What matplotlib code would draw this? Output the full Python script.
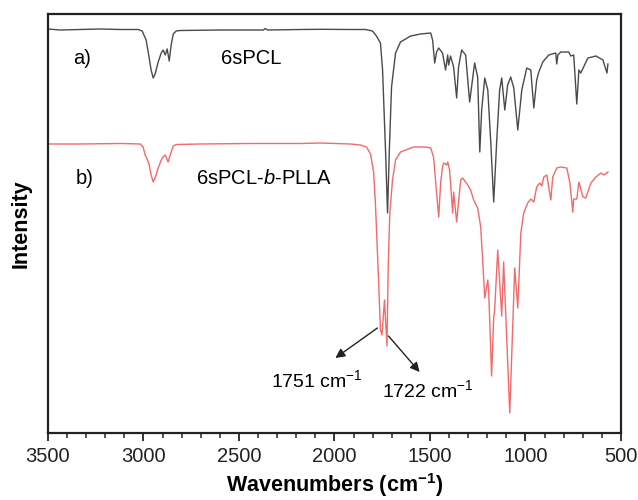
import matplotlib
matplotlib.use("Agg")
from matplotlib import pyplot as plt

# wavenumber (cm-1) / intensity (a.u.)
BLACK_WN = [3500, 3437, 3332, 3227, 3122, 3028, 3007, 2986, 2970, 2960,
            2949, 2939, 2923, 2907, 2897, 2886, 2876, 2865, 2855, 2844,
            2829, 2808, 2598, 2441, 2372, 2362, 2351, 2178, 2073, 1916,
            1837, 1801, 1780, 1759, 1748, 1732, 1722, 1712, 1701, 1680,
            1654, 1601, 1549, 1496, 1486, 1475, 1465, 1454, 1434, 1418,
            1407, 1402, 1392, 1376, 1360, 1350, 1334, 1313, 1292, 1266,
            1250, 1239, 1229, 1213, 1197, 1182, 1166, 1150, 1135, 1124,
            1108, 1093, 1077, 1061, 1040, 1019, 993, 972, 956, 941,
            930, 909, 878, 841, 836, 830, 815, 773, 762, 747,
            731, 720, 710, 673, 631, 594, 573, 568]
BLACK_I = [404, 403, 403.5, 404, 403.5, 403.5, 402, 393, 375, 363,
           355, 359, 371, 380, 383, 378, 384, 372, 388, 399,
           402, 402.5, 403, 403, 403, 404.5, 403, 403.5, 403.7, 403.5,
           403.5, 402, 397, 390, 363, 280, 220, 286, 346, 380,
           391, 397, 399, 400, 393, 370, 381, 385, 380, 363,
           378, 368, 377, 366, 335, 366, 383, 378, 331, 370,
           356, 281, 323, 355, 343, 293, 231, 293, 343, 355,
           323, 348, 356, 345, 303, 343, 365, 363, 325, 353,
           361, 371, 378, 380, 369, 378, 381, 381, 377, 378,
           329, 363, 360, 375, 377, 373, 360, 369]

RED_WN = [3500, 3332, 3122, 3017, 3002, 2991, 2981, 2970, 2960, 2949,
          2939, 2923, 2907, 2897, 2886, 2871, 2860, 2844, 2829, 2703,
          2441, 2178, 2073, 1916, 1864, 1832, 1811, 1795, 1785, 1769,
          1759, 1751, 1738, 1725, 1718, 1710, 1696, 1680, 1654, 1586,
          1523, 1496, 1481, 1465, 1454, 1444, 1434, 1428, 1413, 1407,
          1397, 1381, 1376, 1360, 1339, 1329, 1302, 1287, 1271, 1250,
          1234, 1224, 1213, 1197, 1192, 1177, 1166, 1161, 1145, 1124,
          1114, 1082, 1056, 1040, 1024, 1009, 988, 972, 956, 941,
          925, 914, 904, 888, 867, 857, 836, 815, 783, 767,
          752, 747, 731, 720, 699, 684, 657, 631, 605, 589, 568]
RED_I = [289, 289, 289.5, 289, 286, 278, 274, 268, 258, 251,
         255, 265, 273, 276, 278, 271, 278, 287, 288.5, 289,
         289.5, 289.5, 290, 289, 288, 286, 279, 261, 228, 153,
         103, 98, 133, 87, 170, 220, 253, 273, 281, 286,
         286, 285, 276, 240, 216, 250, 266, 270, 268, 271,
         263, 220, 241, 211, 253, 255, 248, 243, 233, 225,
         206, 173, 135, 153, 140, 57, 116, 123, 183, 117,
         171, 20, 165, 125, 200, 220, 230, 234, 231, 246,
         250, 247, 256, 258, 233, 256, 265, 266, 265, 250,
         221, 234, 234, 251, 236, 235, 250, 256, 260, 258, 261]

XTICKS = [3500, 3000, 2500, 2000, 1500, 1000, 500]

plt.rcParams["font.family"] = ["Liberation Sans", "DejaVu Sans"]
plt.rcParams["mathtext.fontset"] = "custom"
plt.rcParams["mathtext.rm"] = "Liberation Sans"
plt.rcParams["mathtext.it"] = "Liberation Sans:italic"
plt.rcParams["mathtext.bf"] = "Liberation Sans:bold"

fig = plt.figure(figsize=(6.38, 5.0), dpi=100)
ax = fig.add_axes([0.0752, 0.134, 0.898, 0.838])

ax.plot(BLACK_WN, BLACK_I, color="#4a4a4a", linewidth=1.0)
ax.plot(RED_WN, RED_I, color="#f26a6a", linewidth=1.0)

ax.set_xlim(3500, 500)
ax.set_ylim(0, 419)
ax.set_xticks(XTICKS)
ax.set_xticks(range(600, 3500, 100), minor=True)
ax.set_yticks([])
ax.tick_params(axis="x", which="major", direction="out", length=6, width=1.3,
               labelsize=14.5, pad=4, colors="#222222")
ax.tick_params(axis="x", which="minor", direction="out", length=3.5, width=1.1,
               colors="#222222")
for sp in ax.spines.values():
    sp.set_linewidth(1.6)
    sp.set_color("#222222")

ax.set_xlabel("Wavenumbers (cm$^{\\mathbf{-1}}$)", fontsize=15.5,
              fontweight="bold", labelpad=4)
ax.set_ylabel("Intensity", fontsize=15.5, fontweight="bold", labelpad=12)

ax.text(3369, 374, "a)", fontsize=14.5, va="center", ha="left")
ax.text(2593, 374, "6sPCL", fontsize=14.5, va="center", ha="left")
ax.text(3353, 255, "b)", fontsize=14.5, va="center", ha="left")
ax.text(2724, 255, "6sPCL-$\\it{b}$-PLLA", fontsize=14.5, va="center", ha="left")

ax.annotate("", xy=(1995, 75), xytext=(1775, 105),
            arrowprops=dict(arrowstyle="-|>", color="#222222", lw=1.0,
                            mutation_scale=14, shrinkA=0, shrinkB=0))
ax.annotate("", xy=(1554, 61), xytext=(1717, 97),
            arrowprops=dict(arrowstyle="-|>", color="#222222", lw=1.0,
                            mutation_scale=14, shrinkA=0, shrinkB=0))
ax.text(2094, 53, "1751 cm$^{-1}$", fontsize=14, va="center", ha="center")
ax.text(1512, 43, "1722 cm$^{-1}$", fontsize=14, va="center", ha="center")

plt.savefig("out.png", dpi=100)
